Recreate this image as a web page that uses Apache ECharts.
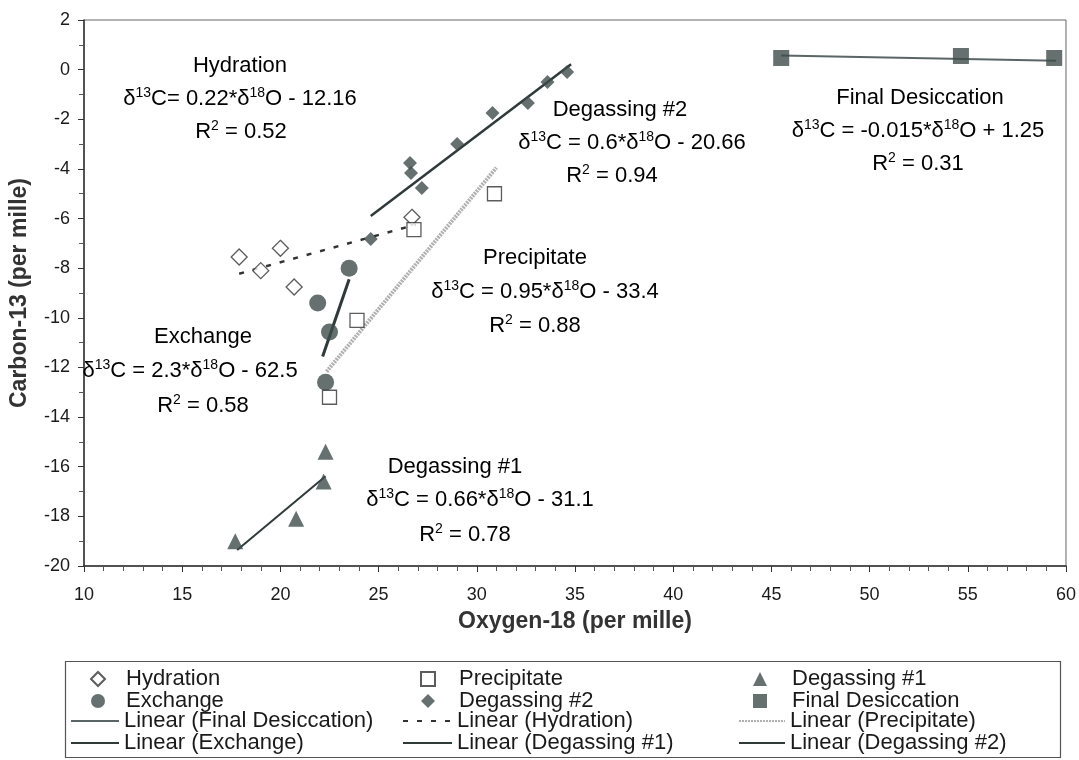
<!DOCTYPE html>
<html><head><meta charset="utf-8">
<script src="https://cdn.jsdelivr.net/npm/echarts@6/dist/echarts.min.js"></script>
<style>html,body{margin:0;padding:0;background:#fff}#c{width:1079px;height:760px}</style>
</head><body><div id="c"></div>
<script>
// ---- data ----
const hydration = [[17.9,-7.55],[19.0,-8.1],[20.0,-7.2],[20.7,-8.76],[26.7,-5.95]];
const exchange = [[23.5,-8.0],[21.9,-9.4],[22.5,-10.57],[22.3,-12.6]];
const precipitate = [[23.9,-10.1],[22.5,-13.2],[26.8,-6.45],[30.9,-5.0]];
const degassing2 = [[34.6,-0.1],[33.6,-0.5],[32.6,-1.34],[30.8,-1.75],[29.0,-3.0],[26.6,-3.76],[26.65,-4.16],[27.2,-4.77],[24.6,-6.82]];
const degassing1 = [[22.3,-15.4],[22.2,-16.6],[20.8,-18.1],[17.7,-19.0]];
const finalDesiccation = [[45.5,0.47],[54.65,0.55],[59.4,0.47]];

// trend lines: name, slope, intercept, x range
const trendNames = ['Linear (Final Desiccation)','Linear (Hydration)','Linear (Precipitate)','Linear (Exchange)','Linear (Degassing #1)','Linear (Degassing #2)'];
const trendSlopes = [-0.015, 0.22, 0.95, 2.3, 0.66, 0.6];
const trendIntercepts = [1.25, -12.16, -33.4, -62.5, -31.1, -20.66];
const trendXStart = [45.5, 17.9, 22.35, 22.15, 17.8, 24.6];
const trendXEnd = [59.5, 26.9, 31.0, 23.5, 22.3, 34.8];

const xTicks = {min:10, max:60, interval:5};
const yTicks = {min:-20, max:2, interval:2};

const DARK = '#3e4c4b';
const TXT = '#1a1a1a';
const FONT = '"Liberation Sans", Arial, sans-serif';

function trendData(i){
  const a = trendXStart[i], b = trendXEnd[i];
  return [[a, trendSlopes[i]*a + trendIntercepts[i]], [b, trendSlopes[i]*b + trendIntercepts[i]]];
}

const trendStyles = [
  {color:'#5a6665', width:2, type:'solid'},
  {color:'#333', width:2.5, type:[5,9]},
  {color:'#b0b0b0', width:4, type:[2,1]},
  {color:'#2f3a39', width:3, type:'solid'},
  {color:'#2f3a39', width:2, type:'solid'},
  {color:'#2f3a39', width:2.5, type:'solid'}
];

const series = [
  {name:'Hydration', type:'scatter', data:hydration, symbol:'diamond', symbolSize:16, itemStyle:{color:'#fff', borderColor:'#333', borderWidth:1.3}, z:5},
  {name:'Exchange', type:'scatter', data:exchange, symbol:'circle', symbolSize:17, itemStyle:{color:DARK}, z:5},
  {name:'Precipitate', type:'scatter', data:precipitate, symbol:'rect', symbolSize:14, itemStyle:{color:'#fff', borderColor:'#333', borderWidth:1.3}, z:5},
  {name:'Degassing #2', type:'scatter', data:degassing2, symbol:'diamond', symbolSize:14, itemStyle:{color:DARK}, z:5},
  {name:'Degassing #1', type:'scatter', data:degassing1, symbol:'triangle', symbolSize:16, itemStyle:{color:DARK}, z:5},
  {name:'Final Desiccation', type:'scatter', data:finalDesiccation, symbol:'rect', symbolSize:16, itemStyle:{color:DARK}, z:5}
];
trendNames.forEach((n,i)=>{
  series.push({name:n, type:'line', data:trendData(i), symbol:'none', showSymbol:false, lineStyle:trendStyles[i], itemStyle:{color:trendStyles[i].color}, z:3, silent:true});
});

// annotations
function rich(s){
  return s.replace(/δ13/g,'{n|δ}{s|13}').replace(/δ18/g,'{n|δ}{s|18}').replace(/R2/g,'{n|R}{s|2}')
    .split(/(\{[ns]\|[^}]*\})/).filter(t=>t).map(t=> t.startsWith('{') ? t : '{n|'+t+'}').join('');
}
const richStyle = {
  n:{fontSize:22, fontFamily:FONT, color:TXT, lineHeight:24, verticalAlign:'bottom'},
  s:{fontSize:14, fontFamily:FONT, color:TXT, lineHeight:24, verticalAlign:'top'}
};
const annotations = [
  ['Hydration', 240, 65], ['δ13C= 0.22*δ18O - 12.16', 240, 98], ['R2 = 0.52', 241, 131],
  ['Degassing #2', 620, 109], ['δ13C = 0.6*δ18O - 20.66', 632, 142], ['R2 = 0.94', 612, 175],
  ['Final Desiccation', 920, 97], ['δ13C = -0.015*δ18O + 1.25', 918, 130], ['R2 = 0.31', 918, 163],
  ['Precipitate', 535, 257], ['δ13C = 0.95*δ18O - 33.4', 545, 291], ['R2 = 0.88', 535, 325],
  ['Exchange', 203, 336], ['δ13C = 2.3*δ18O - 62.5', 190, 370], ['R2 = 0.58', 203, 405],
  ['Degassing #1', 455, 466], ['δ13C = 0.66*δ18O - 31.1', 480, 499], ['R2 = 0.78', 465, 534]
];
const graphics = annotations.map(a=>({
  type:'text', x:a[1], y:a[2], z:10,
  style:{text:rich(a[0]), rich:richStyle, align:'center', verticalAlign:'middle'}
}));
graphics.push({type:'rect', shape:{x:65.5, y:661.5, width:995, height:96}, style:{fill:'none', stroke:'#555', lineWidth:1.2}, z:0});

// legends: per column, symbols (top two rows) and trend lines (bottom two rows)
const legendSym = [['Hydration','Exchange'],['Precipitate','Degassing #2'],['Degassing #1','Final Desiccation']];
const legendLin = [['Linear (Final Desiccation)','Linear (Exchange)'],['Linear (Hydration)','Linear (Degassing #1)'],['Linear (Precipitate)','Linear (Degassing #2)']];
const symLeft = [90, 420, 753];
const symPad = [16, 19, 20];
const linLeft = [70, 402, 738];
const linWidth = [48, 49, 46];
const legendText = {fontFamily:FONT, fontSize:22, color:TXT, lineHeight:21};
const legends = [];
legendSym.forEach((c,i)=>legends.push({
  data:c, orient:'vertical', left:symLeft[i], top:668, itemWidth:14, itemHeight:14, itemGap:0,
  selectedMode:false, symbolKeepAspect:true, padding:0,
  textStyle:Object.assign({padding:[0,0,0,symPad[i]]}, legendText)
}));
legendLin.forEach((c,i)=>legends.push({
  data:c, orient:'vertical', left:linLeft[i], top:710, itemWidth:linWidth[i], itemHeight:12, itemGap:0,
  selectedMode:false, padding:0, itemStyle:{opacity:0},
  textStyle:Object.assign({padding:[0,0,0,0]}, legendText)
}));

const chart = echarts.init(document.getElementById('c'), null, {renderer:'canvas'});
chart.setOption({
  animation:false,
  backgroundColor:'#fff',
  grid:{left:84, right:13, top:20, bottom:194, show:true, borderColor:'#666', borderWidth:1},
  xAxis:{type:'value', min:xTicks.min, max:xTicks.max, interval:xTicks.interval,
    name:'Oxygen-18 (per mille)', nameLocation:'middle', nameGap:44,
    nameTextStyle:{fontFamily:FONT, fontSize:23, fontWeight:'bold', color:'#333'},
    axisLine:{onZero:false, lineStyle:{color:'#333', width:1.5}}, axisTick:{inside:false, length:6, lineStyle:{color:'#333'}},
    minorTick:{show:true, splitNumber:5, length:5, lineStyle:{color:'#555'}},
    axisLabel:{fontFamily:FONT, fontSize:18, color:TXT, margin:20}, splitLine:{show:false}},
  yAxis:{type:'value', min:yTicks.min, max:yTicks.max, interval:yTicks.interval,
    name:'Carbon-13 (per mille)', nameLocation:'middle', nameGap:53,
    nameTextStyle:{fontFamily:FONT, fontSize:23, fontWeight:'bold', color:'#333'},
    axisLine:{onZero:false, lineStyle:{color:'#333', width:1.5}}, axisTick:{length:6, lineStyle:{color:'#333'}},
    minorTick:{show:true, splitNumber:2, length:5, lineStyle:{color:'#555'}},
    axisLabel:{fontFamily:FONT, fontSize:18, color:TXT, margin:14}, splitLine:{show:false}},
  legend:legends,
  series:series,
  graphic:graphics
});
</script></body></html>
